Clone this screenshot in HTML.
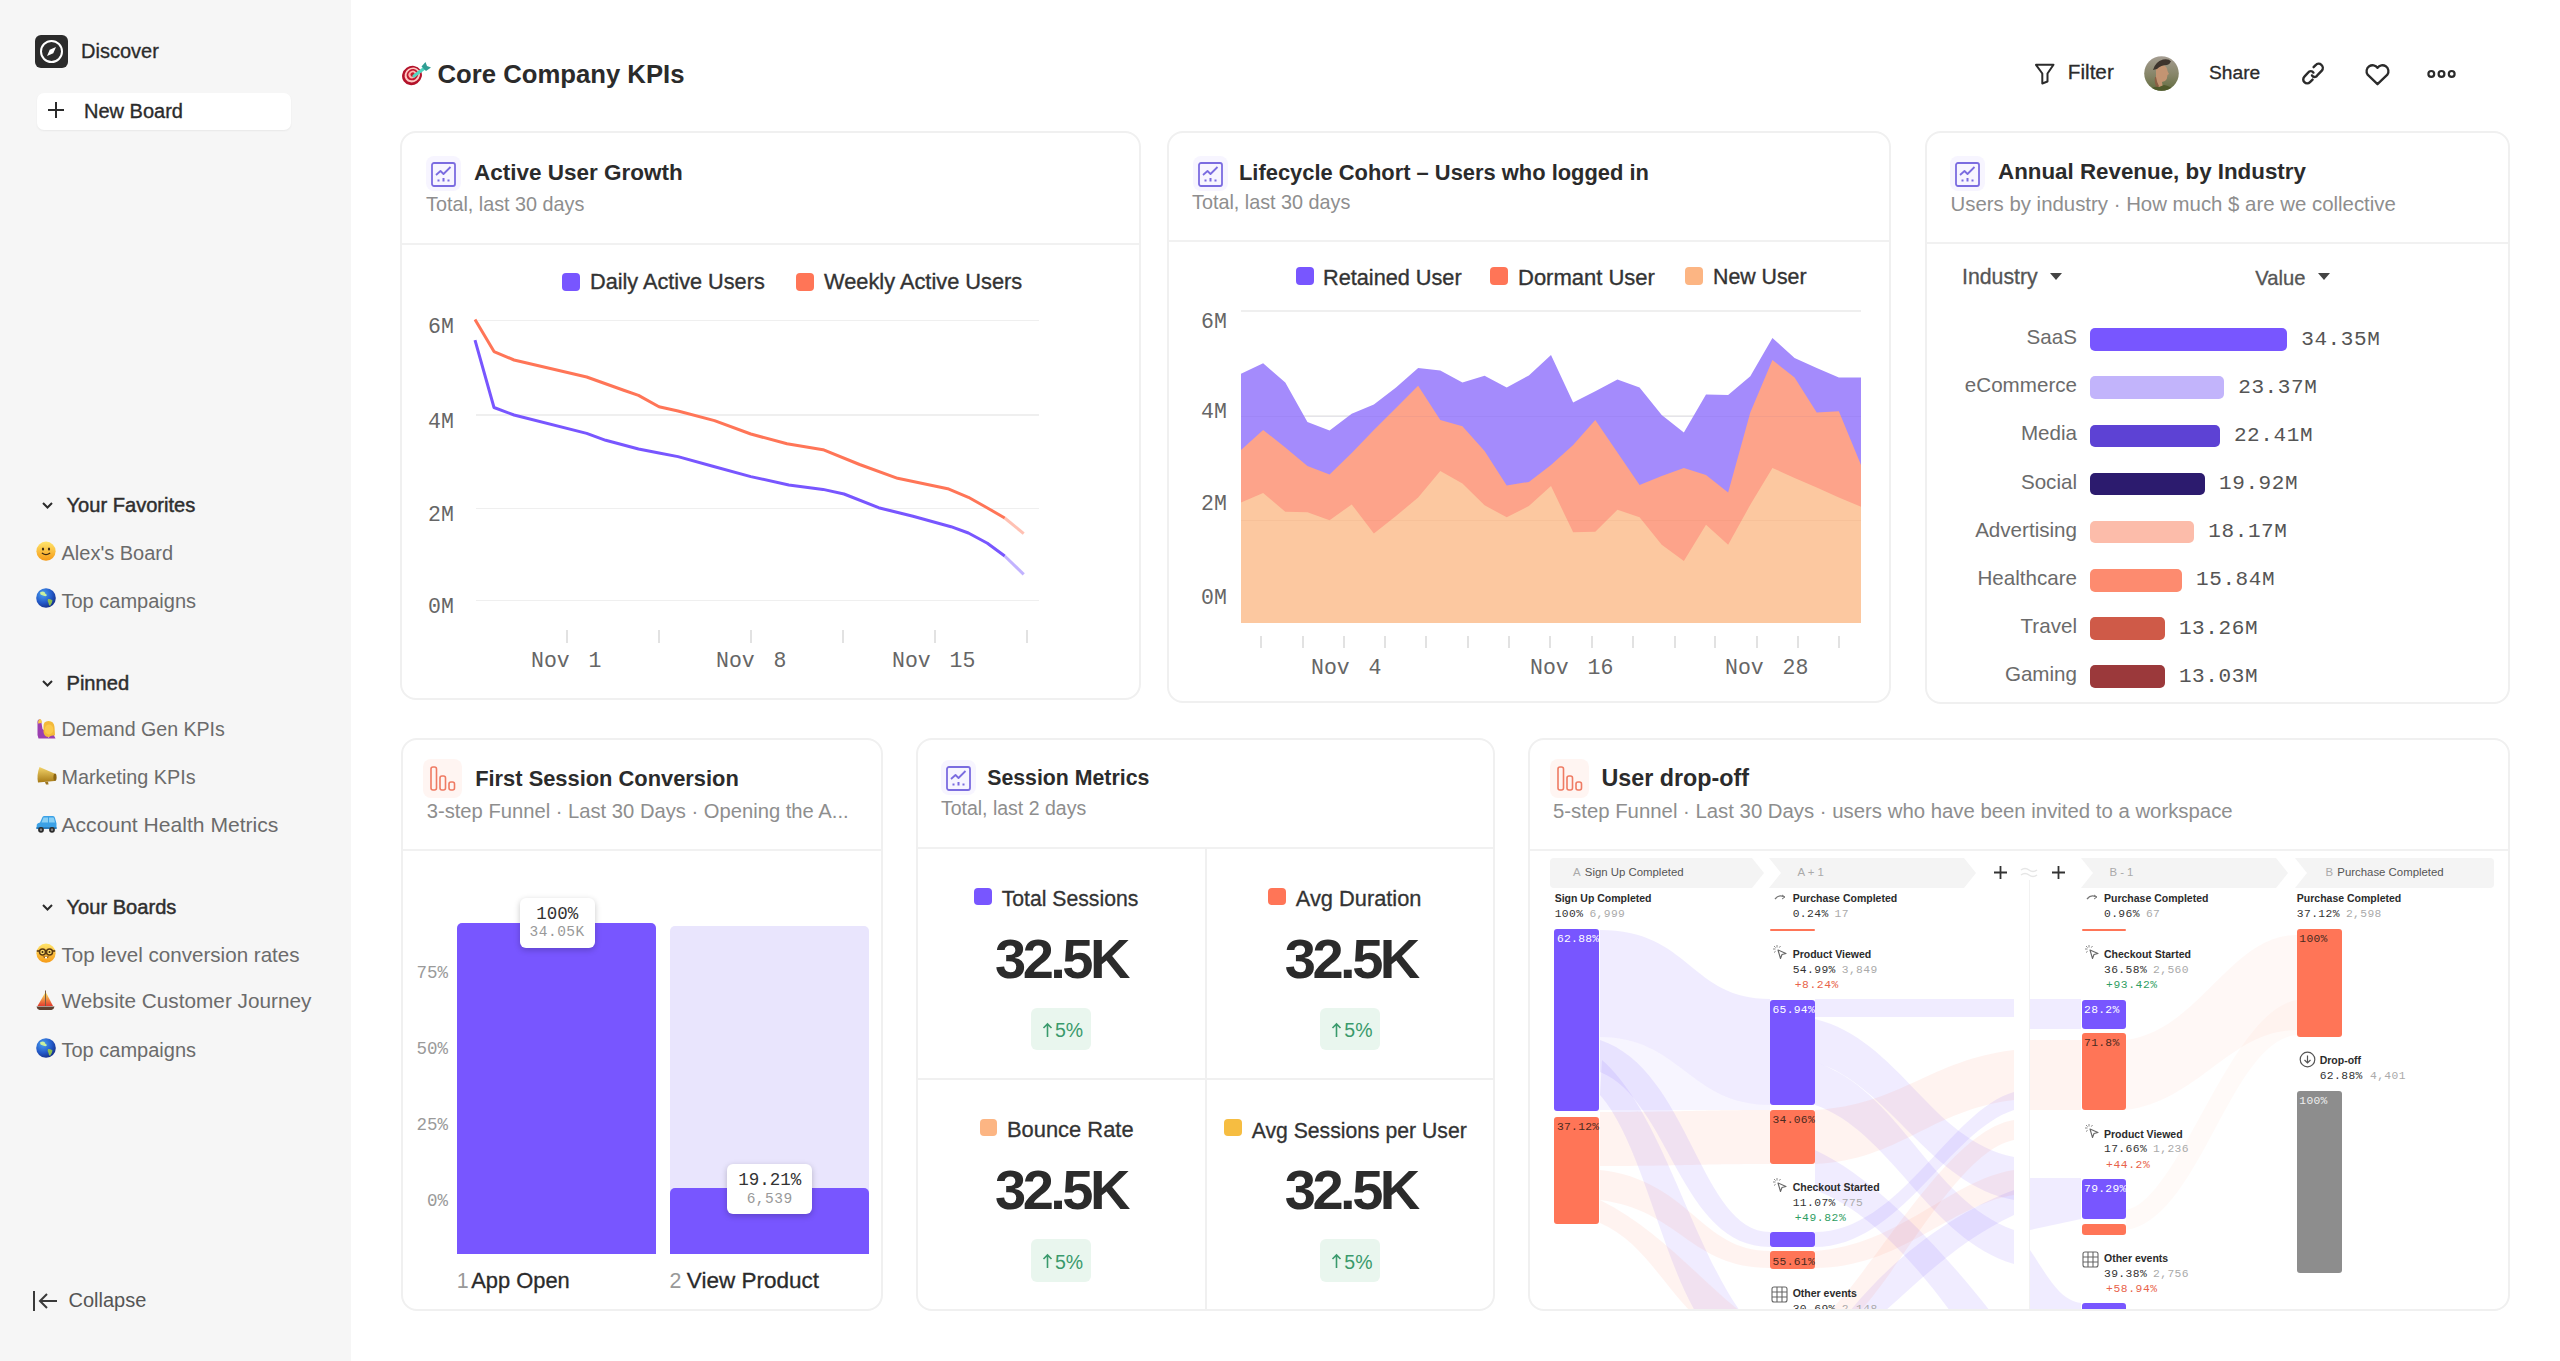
<!DOCTYPE html>
<html><head><meta charset="utf-8">
<style>
*{box-sizing:border-box;margin:0;padding:0}
html,body{width:2560px;height:1361px;overflow:hidden;background:#fff;font-family:"Liberation Sans",sans-serif;color:#2b2b2b;position:relative}
.abs{position:absolute}
.t{position:absolute;white-space:nowrap;line-height:1}
</style></head><body>
<div class="abs" style="left:0.00px;top:0.00px;width:351.00px;height:1361.00px;background:#f6f6f6;border-radius:0px;"></div>
<div class="abs" style="left:35.00px;top:35.00px;width:33.00px;height:33.00px;background:#2b2b2b;border-radius:6px;"></div>
<svg class="abs" style="left:35.00px;top:35.00px;" width="33" height="33" viewBox="0 0 33 33"><circle cx="16.5" cy="16.5" r="10.5" fill="none" stroke="#fff" stroke-width="2"/><path d="M21 12 L18.3 18.3 L12 21 L14.7 14.7Z" fill="#fff"/></svg>
<div class="t" style="top:40.57px;font-size:20px;color:#2b2b2b;font-family:'Liberation Sans',sans-serif;left:81.00px;-webkit-text-stroke:0.3px #2b2b2b">Discover</div>
<div class="abs" style="left:37.00px;top:93.00px;width:254.00px;height:37.00px;background:#ffffff;border-radius:7px;box-shadow:0 1px 2px rgba(0,0,0,0.06);"></div>
<svg class="abs" style="left:46.00px;top:100.00px;" width="20" height="20" viewBox="0 0 20 20"><path d="M10 2 V18 M2 10 H18" stroke="#2b2b2b" stroke-width="2"/></svg>
<div class="t" style="top:100.57px;font-size:20px;color:#2b2b2b;font-family:'Liberation Sans',sans-serif;left:84.00px;-webkit-text-stroke:0.35px #2b2b2b">New Board</div>
<svg class="abs" style="left:41.00px;top:500.40px;" width="13" height="10" viewBox="0 0 13 10"><path d="M2 3 L6.5 7.5 L11 3" stroke="#2b2b2b" stroke-width="2" fill="none"/></svg>
<div class="t" style="top:495.38px;font-size:20.1px;color:#2e2e2e;font-family:'Liberation Sans',sans-serif;left:66.50px;-webkit-text-stroke:0.45px #2e2e2e">Your Favorites</div>
<svg class="abs" style="left:35.70px;top:540.90px;" width="21" height="21" viewBox="0 0 21 21"><defs><linearGradient id="gsmile540" x1="0" y1="0" x2="0" y2="1"><stop offset="0" stop-color="#ffe46a"/><stop offset="1" stop-color="#f59a16"/></linearGradient></defs><circle cx="10" cy="10.2" r="9.6" fill="url(#gsmile540)"/><ellipse cx="7" cy="8" rx="1.1" ry="1.5" fill="#3d2a12"/><ellipse cx="13" cy="8" rx="1.1" ry="1.5" fill="#3d2a12"/><path d="M6.3 12.3 Q10 15 13.7 12.3" stroke="#3d2a12" stroke-width="1.3" fill="none" stroke-linecap="round"/></svg>
<div class="t" style="top:543.37px;font-size:20px;color:#6b6b6b;font-family:'Liberation Sans',sans-serif;left:61.50px;">Alex's Board</div>
<svg class="abs" style="left:35.70px;top:588.20px;" width="21" height="21" viewBox="0 0 21 21"><defs><radialGradient id="gglobe588" cx="0.35" cy="0.3" r="0.75"><stop offset="0" stop-color="#4aa0f0"/><stop offset="0.6" stop-color="#2359c8"/><stop offset="1" stop-color="#142f88"/></radialGradient></defs><circle cx="10" cy="10" r="9.8" fill="url(#gglobe588)"/><path d="M4 4.5 Q6.5 3 8.5 4 Q9 6 11 7 Q10.5 8.5 8.5 8 Q6 7 4.5 6.5Z" fill="#c9f0a0"/><path d="M12 11 Q15 10.5 16.5 12.5 Q16 15.5 14 18 Q12.5 17 12.5 15 Q11 13 12 11Z" fill="#8fbf4e"/></svg>
<div class="t" style="top:590.67px;font-size:20px;color:#6b6b6b;font-family:'Liberation Sans',sans-serif;left:61.50px;">Top campaigns</div>
<svg class="abs" style="left:41.00px;top:678.00px;" width="13" height="10" viewBox="0 0 13 10"><path d="M2 3 L6.5 7.5 L11 3" stroke="#2b2b2b" stroke-width="2" fill="none"/></svg>
<div class="t" style="top:672.98px;font-size:20.1px;color:#2e2e2e;font-family:'Liberation Sans',sans-serif;left:66.50px;-webkit-text-stroke:0.45px #2e2e2e">Pinned</div>
<svg class="abs" style="left:35.70px;top:717.60px;" width="21" height="21" viewBox="0 0 21 21"><path d="M1.5 6 Q1 1.5 3.5 1.2 Q5.5 1.5 5.5 5 L6.5 11 Q9 13.5 12 14 L12.5 20.5 L2.5 20.5 Q1 18 1.5 13Z" fill="#9b3fb0"/><path d="M2 5.5 Q2 1.5 4 1 Q6 1.5 5.8 5Z" fill="#f7c948"/><path d="M7.5 9 Q7 3 12.5 3 Q18 3 18.5 9 L19 17 Q16.5 20 13 19 Q8 19 7.5 14Z" fill="#f3b93a"/><ellipse cx="13" cy="11.5" rx="4.3" ry="5" fill="#fbc94a"/><path d="M12 20.5 Q14 17 18 17.5 L19.5 20.5Z" fill="#9b3fb0"/></svg>
<div class="t" style="top:720.40px;font-size:19.6px;color:#6b6b6b;font-family:'Liberation Sans',sans-serif;left:61.50px;">Demand Gen KPIs</div>
<svg class="abs" style="left:35.70px;top:765.30px;" width="21" height="21" viewBox="0 0 21 21"><defs><linearGradient id="gmega765" x1="0" y1="0" x2="0" y2="1"><stop offset="0" stop-color="#f3d46a"/><stop offset="1" stop-color="#a77a16"/></linearGradient></defs><path d="M3.5 2 L18.5 8.5 Q20.5 12.5 18.5 16 L2 17.5 Q0.5 10 3.5 2Z" fill="url(#gmega765)"/><ellipse cx="19" cy="12.3" rx="1.6" ry="3.8" fill="#8d6512"/><path d="M9 17 L10 19.5 L12.5 19.5 L12 16.8Z" fill="#9b7420"/></svg>
<div class="t" style="top:767.94px;font-size:19.8px;color:#6b6b6b;font-family:'Liberation Sans',sans-serif;left:61.50px;">Marketing KPIs</div>
<svg class="abs" style="left:35.70px;top:812.60px;" width="21" height="21" viewBox="0 0 21 21"><path d="M0.5 16 L0.8 11.5 Q1.5 10 4 9.5 L6.5 4 Q7 3 8.5 3 L17 3 Q18.5 3 19 5 L20.5 10.5 L20.5 16 Z" fill="#3ba1e6"/><path d="M7.5 4.5 L12 4.5 L12 9.5 L5.5 9.5Z M13 4.5 L17 4.5 Q17.8 4.5 18 5.5 L19 9.5 L13 9.5Z" fill="#8ad0f5"/><path d="M0.5 14 L20.5 14 L20.5 16 L0.5 16Z" fill="#2a7fc0"/><circle cx="5" cy="16.8" r="2.9" fill="#2b2b2b"/><circle cx="5" cy="16.8" r="1.2" fill="#888"/><circle cx="16" cy="16.8" r="2.9" fill="#2b2b2b"/><circle cx="16" cy="16.8" r="1.2" fill="#888"/></svg>
<div class="t" style="top:814.13px;font-size:21.1px;color:#6b6b6b;font-family:'Liberation Sans',sans-serif;left:61.50px;">Account Health Metrics</div>
<svg class="abs" style="left:41.00px;top:902.00px;" width="13" height="10" viewBox="0 0 13 10"><path d="M2 3 L6.5 7.5 L11 3" stroke="#2b2b2b" stroke-width="2" fill="none"/></svg>
<div class="t" style="top:896.98px;font-size:20.1px;color:#2e2e2e;font-family:'Liberation Sans',sans-serif;left:66.50px;-webkit-text-stroke:0.45px #2e2e2e">Your Boards</div>
<svg class="abs" style="left:35.70px;top:942.60px;" width="21" height="21" viewBox="0 0 21 21"><defs><linearGradient id="gnerd942" x1="0" y1="0" x2="0" y2="1"><stop offset="0" stop-color="#ffe46a"/><stop offset="1" stop-color="#f59a16"/></linearGradient></defs><circle cx="10" cy="10.2" r="9.6" fill="url(#gnerd942)"/><path d="M0.8 8 L19.2 8" stroke="#5a3a12" stroke-width="1.6"/><circle cx="6.5" cy="9" r="3" fill="#ffd966" stroke="#5a3a12" stroke-width="1.5"/><circle cx="13.5" cy="9" r="3" fill="#ffd966" stroke="#5a3a12" stroke-width="1.5"/><circle cx="6.5" cy="9" r="1" fill="#3d2a12"/><circle cx="13.5" cy="9" r="1" fill="#3d2a12"/><path d="M6.5 13.5 Q10 16.5 13.5 13.5Z" fill="#7a4a18"/><rect x="9" y="13.8" width="2" height="1.6" fill="#fff"/></svg>
<div class="t" style="top:944.56px;font-size:20.6px;color:#6b6b6b;font-family:'Liberation Sans',sans-serif;left:61.50px;">Top level conversion rates</div>
<svg class="abs" style="left:35.70px;top:989.60px;" width="21" height="21" viewBox="0 0 21 21"><defs><linearGradient id="gboat989" x1="0" y1="0" x2="0" y2="1"><stop offset="0" stop-color="#fde35a"/><stop offset="1" stop-color="#e23a2e"/></linearGradient></defs><path d="M9.5 0.5 L9.5 16" stroke="#6b4a2a" stroke-width="0.9"/><path d="M9 3 L9 16 L1.5 16Z" fill="url(#gboat989)"/><path d="M10 2.5 L10 16 L17 16Z" fill="url(#gboat989)"/><path d="M0.5 16.5 L18.5 16.5 Q18 19.5 15.5 20 L3.5 20 Q1 19.5 0.5 16.5Z" fill="#5e4030"/></svg>
<div class="t" style="top:991.42px;font-size:20.76px;color:#6b6b6b;font-family:'Liberation Sans',sans-serif;left:61.50px;">Website Customer Journey</div>
<svg class="abs" style="left:35.70px;top:1037.60px;" width="21" height="21" viewBox="0 0 21 21"><defs><radialGradient id="gglobe1037" cx="0.35" cy="0.3" r="0.75"><stop offset="0" stop-color="#4aa0f0"/><stop offset="0.6" stop-color="#2359c8"/><stop offset="1" stop-color="#142f88"/></radialGradient></defs><circle cx="10" cy="10" r="9.8" fill="url(#gglobe1037)"/><path d="M4 4.5 Q6.5 3 8.5 4 Q9 6 11 7 Q10.5 8.5 8.5 8 Q6 7 4.5 6.5Z" fill="#c9f0a0"/><path d="M12 11 Q15 10.5 16.5 12.5 Q16 15.5 14 18 Q12.5 17 12.5 15 Q11 13 12 11Z" fill="#8fbf4e"/></svg>
<div class="t" style="top:1040.07px;font-size:20px;color:#6b6b6b;font-family:'Liberation Sans',sans-serif;left:61.50px;">Top campaigns</div>
<svg class="abs" style="left:32.00px;top:1289.00px;" width="27" height="24" viewBox="0 0 27 24"><path d="M2 2 V22" stroke="#3a3a3a" stroke-width="2"/><path d="M25 12 H8 M15 5 L8 12 L15 19" stroke="#3a3a3a" stroke-width="2" fill="none"/></svg>
<div class="t" style="top:1290.07px;font-size:20px;color:#555;font-family:'Liberation Sans',sans-serif;left:68.50px;">Collapse</div>
<svg class="abs" style="left:401.00px;top:60.00px;" width="30" height="28" viewBox="0 0 30 28"><g transform="rotate(-35 11 15.5)"><ellipse cx="11" cy="15.5" rx="10.2" ry="9.4" fill="#b3122a"/><ellipse cx="11.6" cy="15.2" rx="8" ry="7.2" fill="#ffc9c4"/><ellipse cx="11.8" cy="15.1" rx="6.1" ry="5.4" fill="#c0182f"/><ellipse cx="12" cy="15" rx="4.2" ry="3.7" fill="#ffb3ad"/><ellipse cx="12.1" cy="15" rx="2.2" ry="2" fill="#c41f2c"/></g><path d="M13 16 L23 8.5" stroke="#52d6c0" stroke-width="3.2" stroke-linecap="round"/><path d="M20.5 6.5 L24.5 2 L26 6 L30 7.5 L25 11 Z" fill="#2f9e94"/></svg>
<div class="t" style="top:62.04px;font-size:25.7px;color:#2b2b2b;font-family:'Liberation Sans',sans-serif;font-weight:bold;left:437.50px;">Core Company KPIs</div>
<svg class="abs" style="left:2034.00px;top:63.00px;" width="22" height="22" viewBox="0 0 22 22"><path d="M2 1.8 H19.5 L13.5 10.5 V18.5 L8.3 20.5 V10.5Z" fill="none" stroke="#2b2b2b" stroke-width="2" stroke-linejoin="round"/></svg>
<div class="t" style="top:61.97px;font-size:20.7px;color:#2b2b2b;font-family:'Liberation Sans',sans-serif;left:2067.80px;-webkit-text-stroke:0.3px #2b2b2b">Filter</div>
<svg class="abs" style="left:2144.00px;top:56.00px;" width="36" height="36" viewBox="0 0 36 36"><defs><clipPath id="av"><circle cx="17.5" cy="17.5" r="17.3"/></clipPath><linearGradient id="avg" x1="0" y1="0" x2="0" y2="1"><stop offset="0" stop-color="#a59d92"/><stop offset="0.55" stop-color="#858466"/><stop offset="1" stop-color="#5e6a3c"/></linearGradient></defs><g clip-path="url(#av)"><rect width="36" height="36" fill="url(#avg)"/><path d="M12 12 Q14 9 19 9 Q23 10 23.5 15 L25 18 L23.5 19 Q23.5 23 21 25 L18 26 L19 32 L13 33 Q11 26 12 20Z" fill="#c39472"/><path d="M12 21 Q13 27 15 30 L13 33 Q10 27 11 21Z" fill="#8a5f45"/><path d="M9 14 Q11 6 19 3.5 Q25 2.5 27 5.5 Q26 8 23 9 Q17 9 13 13Z" fill="#3d342d"/><path d="M4 36 Q8 30 15 31 L20 29 Q27 30 32 36Z" fill="#4f5a2c"/></g></svg>
<div class="t" style="top:63.24px;font-size:19.2px;color:#2b2b2b;font-family:'Liberation Sans',sans-serif;left:2209.00px;-webkit-text-stroke:0.3px #2b2b2b">Share</div>
<svg class="abs" style="left:2290.00px;top:50.00px;" width="50" height="50" viewBox="0 0 50 50"><g fill="none" stroke="#2b2b2b" stroke-width="2.4" stroke-linecap="round" transform="translate(-2290,-50)"><path d="M2313.6 67.2 L2315.6 65.2 A3.7 3.7 0 0 1 2321.8 70.6 L2317.4 75.2 A3 3 0 0 1 2312 75.4"/><path d="M2313.4 72.6 A3 3 0 0 0 2308.2 72.6 L2304.4 76.6 A3.7 3.7 0 0 0 2310 82.2 L2312.6 79.6"/></g></svg>
<svg class="abs" style="left:2360.00px;top:60.00px;" width="34" height="30" viewBox="0 0 34 30"><path d="M17.5 24.2 L7.6 14.6 A5.9 5.9 0 0 1 17.5 7.9 A5.9 5.9 0 0 1 27.4 14.6Z" fill="none" stroke="#2b2b2b" stroke-width="2.3" stroke-linejoin="round"/></svg>
<svg class="abs" style="left:2426.00px;top:66.00px;" width="31" height="15" viewBox="0 0 31 15"><circle cx="5.3" cy="7.9" r="2.9" fill="none" stroke="#2b2b2b" stroke-width="2.2"/><circle cx="15.5" cy="7.9" r="2.9" fill="none" stroke="#2b2b2b" stroke-width="2.2"/><circle cx="25.7" cy="7.9" r="2.9" fill="none" stroke="#2b2b2b" stroke-width="2.2"/></svg>
<div class="abs" style="left:400px;top:131px;width:741px;height:569px;border:2px solid #f0f0f0;border-radius:16px;background:#fff"></div>
<div class="abs" style="left:402.00px;top:242.50px;width:737.00px;height:2.00px;background:#f1f1f1;border-radius:0px;"></div>
<div class="abs" style="left:426.00px;top:156.00px;width:35.00px;height:35.00px;background:#f7f5ff;border-radius:8px;"></div>
<svg class="abs" style="left:431.00px;top:162.00px;" width="25" height="25" viewBox="0 0 25 25"><rect x="1" y="1" width="23" height="23" rx="2" fill="none" stroke="#7b6ce0" stroke-width="1.8"/><path d="M5 13 L9.5 9 L12.5 12 L19.5 5" fill="none" stroke="#7b6ce0" stroke-width="1.8" stroke-linejoin="round"/><rect x="6.5" y="17.5" width="2" height="2" fill="#7a6ae0"/><rect x="11.5" y="16" width="2" height="3.5" fill="#7a6ae0"/><rect x="16.5" y="17.5" width="2" height="2" fill="#7a6ae0"/></svg>
<div class="t" style="top:161.95px;font-size:22.5px;color:#2b2b2b;font-family:'Liberation Sans',sans-serif;font-weight:bold;left:474.00px;">Active User Growth</div>
<div class="t" style="top:195.44px;font-size:19.8px;color:#8e8e8e;font-family:'Liberation Sans',sans-serif;left:426.00px;">Total, last 30 days</div>
<div class="abs" style="left:561.80px;top:272.80px;width:18.00px;height:18.00px;background:#7856ff;border-radius:4px;"></div>
<div class="t" style="top:271.13px;font-size:21.7px;color:#333;font-family:'Liberation Sans',sans-serif;left:590.00px;-webkit-text-stroke:0.35px #333">Daily Active Users</div>
<div class="abs" style="left:796.00px;top:272.80px;width:18.00px;height:18.00px;background:#ff7557;border-radius:4px;"></div>
<div class="t" style="top:271.04px;font-size:21.8px;color:#333;font-family:'Liberation Sans',sans-serif;left:824.00px;-webkit-text-stroke:0.35px #333">Weekly Active Users</div>
<div class="abs" style="left:476.00px;top:319.75px;width:563.00px;height:1.50px;background:#efefef;border-radius:0px;"></div>
<div class="t" style="top:317.03px;font-size:21.5px;color:#666;font-family:'Liberation Mono',monospace;left:428.00px;">6M</div>
<div class="abs" style="left:476.00px;top:414.25px;width:563.00px;height:1.50px;background:#efefef;border-radius:0px;"></div>
<div class="t" style="top:411.53px;font-size:21.5px;color:#666;font-family:'Liberation Mono',monospace;left:428.00px;">4M</div>
<div class="abs" style="left:476.00px;top:507.65px;width:563.00px;height:1.50px;background:#efefef;border-radius:0px;"></div>
<div class="t" style="top:504.93px;font-size:21.5px;color:#666;font-family:'Liberation Mono',monospace;left:428.00px;">2M</div>
<div class="abs" style="left:476.00px;top:599.55px;width:563.00px;height:1.50px;background:#efefef;border-radius:0px;"></div>
<div class="t" style="top:596.83px;font-size:21.5px;color:#666;font-family:'Liberation Mono',monospace;left:428.00px;">0M</div>
<div class="abs" style="left:565.70px;top:629.60px;width:2.00px;height:13.00px;background:#e2e2e2;border-radius:0px;"></div>
<div class="abs" style="left:658.00px;top:629.60px;width:2.00px;height:13.00px;background:#e2e2e2;border-radius:0px;"></div>
<div class="abs" style="left:749.80px;top:629.60px;width:2.00px;height:13.00px;background:#e2e2e2;border-radius:0px;"></div>
<div class="abs" style="left:842.00px;top:629.60px;width:2.00px;height:13.00px;background:#e2e2e2;border-radius:0px;"></div>
<div class="abs" style="left:934.00px;top:629.60px;width:2.00px;height:13.00px;background:#e2e2e2;border-radius:0px;"></div>
<div class="abs" style="left:1026.00px;top:629.60px;width:2.00px;height:13.00px;background:#e2e2e2;border-radius:0px;"></div>
<div class="t" style="top:650.53px;font-size:21.5px;color:#666;font-family:'Liberation Mono',monospace;left:531.00px;word-spacing:6px">Nov 1</div>
<div class="t" style="top:650.53px;font-size:21.5px;color:#666;font-family:'Liberation Mono',monospace;left:716.00px;word-spacing:6px">Nov 8</div>
<div class="t" style="top:650.53px;font-size:21.5px;color:#666;font-family:'Liberation Mono',monospace;left:892.00px;word-spacing:6px">Nov 15</div>
<svg class="abs" style="left:401.00px;top:240.00px;" width="700" height="400" viewBox="0 0 700 400"><polyline points="74.0,79.4 93.0,111.6 113.0,120.0 185.7,137.0 222.0,150.0 237.5,155.4 258.0,166.8 277.0,171.0 313.5,180.6 349.8,194.0 386.0,203.8 422.0,209.7 458.6,224.5 496.6,238.3 546.7,248.7 567.4,257.3 584.7,267.0 603.7,278.0" fill="none" stroke="#ff7557" stroke-width="3" stroke-linejoin="round"/><polyline points="74.0,100.2 93.0,167.5 113.0,175.0 185.7,193.4 204.7,200.3 237.5,209.0 258.0,213.0 277.0,216.6 311.8,226.3 349.8,236.6 387.8,245.0 422.0,249.4 443.0,254.0 477.6,267.7 512.0,276.3 550.0,286.7 567.4,293.0 586.4,303.3 603.7,316.0" fill="none" stroke="#7856ff" stroke-width="3" stroke-linejoin="round"/><line x1="603.7" y1="278" x2="622.7" y2="293.6" stroke="#ff7557" stroke-opacity="0.45" stroke-width="3"/><line x1="603.7" y1="316" x2="622.7" y2="334.4" stroke="#7856ff" stroke-opacity="0.45" stroke-width="3"/></svg>
<div class="abs" style="left:1167px;top:131px;width:724px;height:572px;border:2px solid #f0f0f0;border-radius:16px;background:#fff"></div>
<div class="abs" style="left:1169.00px;top:239.50px;width:720.00px;height:2.00px;background:#f1f1f1;border-radius:0px;"></div>
<div class="abs" style="left:1193.00px;top:156.00px;width:35.00px;height:35.00px;background:#f7f5ff;border-radius:8px;"></div>
<svg class="abs" style="left:1198.00px;top:162.00px;" width="25" height="25" viewBox="0 0 25 25"><rect x="1" y="1" width="23" height="23" rx="2" fill="none" stroke="#7b6ce0" stroke-width="1.8"/><path d="M5 13 L9.5 9 L12.5 12 L19.5 5" fill="none" stroke="#7b6ce0" stroke-width="1.8" stroke-linejoin="round"/><rect x="6.5" y="17.5" width="2" height="2" fill="#7a6ae0"/><rect x="11.5" y="16" width="2" height="3.5" fill="#7a6ae0"/><rect x="16.5" y="17.5" width="2" height="2" fill="#7a6ae0"/></svg>
<div class="t" style="top:161.96px;font-size:21.9px;color:#2b2b2b;font-family:'Liberation Sans',sans-serif;font-weight:bold;left:1239.00px;">Lifecycle Cohort – Users who logged in</div>
<div class="t" style="top:193.24px;font-size:19.8px;color:#8e8e8e;font-family:'Liberation Sans',sans-serif;left:1192.00px;">Total, last 30 days</div>
<div class="abs" style="left:1295.50px;top:267.00px;width:18.00px;height:18.00px;background:#7856ff;border-radius:4px;"></div>
<div class="t" style="top:267.13px;font-size:21.7px;color:#333;font-family:'Liberation Sans',sans-serif;left:1323.00px;-webkit-text-stroke:0.35px #333">Retained User</div>
<div class="abs" style="left:1490.00px;top:267.00px;width:18.00px;height:18.00px;background:#ff7557;border-radius:4px;"></div>
<div class="t" style="top:266.87px;font-size:22px;color:#333;font-family:'Liberation Sans',sans-serif;left:1518.00px;-webkit-text-stroke:0.35px #333">Dormant User</div>
<div class="abs" style="left:1685.00px;top:267.00px;width:18.00px;height:18.00px;background:#fcb583;border-radius:4px;"></div>
<div class="t" style="top:267.47px;font-size:21.3px;color:#333;font-family:'Liberation Sans',sans-serif;left:1713.00px;-webkit-text-stroke:0.35px #333">New User</div>
<div class="abs" style="left:1241.00px;top:310.45px;width:620.00px;height:1.50px;background:#efefef;border-radius:0px;"></div>
<div class="abs" style="left:1241.00px;top:415.45px;width:620.00px;height:1.50px;background:#efefef;border-radius:0px;"></div>
<div class="abs" style="left:1241.00px;top:519.55px;width:620.00px;height:1.50px;background:#efefef;border-radius:0px;"></div>
<div class="t" style="top:312.03px;font-size:21.5px;color:#666;font-family:'Liberation Mono',monospace;left:1201.00px;">6M</div>
<div class="t" style="top:402.33px;font-size:21.5px;color:#666;font-family:'Liberation Mono',monospace;left:1201.00px;">4M</div>
<div class="t" style="top:494.03px;font-size:21.5px;color:#666;font-family:'Liberation Mono',monospace;left:1201.00px;">2M</div>
<div class="t" style="top:587.73px;font-size:21.5px;color:#666;font-family:'Liberation Mono',monospace;left:1201.00px;">0M</div>
<svg class="abs" style="left:1168.00px;top:240.00px;" width="722" height="400" viewBox="0 0 722 400"><polygon points="73.00,383 73.00,133.70 95.14,123.20 117.29,142.40 139.43,181.90 161.57,190.40 183.71,173.70 205.86,164.40 228.00,147.40 250.14,128.00 272.29,130.40 294.43,142.40 316.57,135.70 338.71,147.40 360.86,135.40 383.00,115.00 405.14,162.40 427.29,151.20 449.43,139.40 471.57,147.40 493.71,174.90 515.86,192.40 538.00,154.40 560.14,154.90 582.29,136.20 604.43,98.00 626.57,118.00 648.71,128.00 670.86,137.40 693.00,137.40 693.00,383" fill="#a48bfc"/><polygon points="73.00,383 73.00,209.90 95.14,189.90 117.29,207.40 139.43,226.10 161.57,234.40 183.71,212.90 205.86,189.90 228.00,167.90 250.14,145.70 272.29,179.90 294.43,186.20 316.57,211.10 338.71,245.40 360.86,241.90 383.00,224.90 405.14,204.90 427.29,179.90 449.43,212.40 471.57,244.90 493.71,236.10 515.86,227.90 538.00,234.90 560.14,252.40 582.29,172.40 604.43,120.00 626.57,137.40 648.71,172.40 670.86,171.20 693.00,224.90 693.00,383" fill="#fda38a"/><polygon points="73.00,383 73.00,262.40 95.14,252.90 117.29,271.80 139.43,272.30 161.57,280.30 183.71,264.40 205.86,293.60 228.00,276.10 250.14,257.40 272.29,231.10 294.43,243.60 316.57,265.30 338.71,277.30 360.86,266.10 383.00,246.10 405.14,292.30 427.29,291.80 449.43,269.80 471.57,277.30 493.71,304.80 515.86,321.00 538.00,284.80 560.14,304.80 582.29,264.80 604.43,227.90 626.57,237.90 648.71,247.40 670.86,257.40 693.00,266.80 693.00,383" fill="#fcc8a0"/></svg>
<div class="abs" style="left:1241.00px;top:415.50px;width:620.00px;height:1.50px;background:rgba(90,60,150,0.06);border-radius:0px;"></div>
<div class="abs" style="left:1241.00px;top:519.50px;width:620.00px;height:1.50px;background:rgba(150,80,40,0.05);border-radius:0px;"></div>
<div class="abs" style="left:1260.40px;top:636.40px;width:2.00px;height:12.00px;background:#e2e2e2;border-radius:0px;"></div>
<div class="abs" style="left:1301.80px;top:636.40px;width:2.00px;height:12.00px;background:#e2e2e2;border-radius:0px;"></div>
<div class="abs" style="left:1342.70px;top:636.40px;width:2.00px;height:12.00px;background:#e2e2e2;border-radius:0px;"></div>
<div class="abs" style="left:1384.00px;top:636.40px;width:2.00px;height:12.00px;background:#e2e2e2;border-radius:0px;"></div>
<div class="abs" style="left:1425.40px;top:636.40px;width:2.00px;height:12.00px;background:#e2e2e2;border-radius:0px;"></div>
<div class="abs" style="left:1466.80px;top:636.40px;width:2.00px;height:12.00px;background:#e2e2e2;border-radius:0px;"></div>
<div class="abs" style="left:1507.70px;top:636.40px;width:2.00px;height:12.00px;background:#e2e2e2;border-radius:0px;"></div>
<div class="abs" style="left:1549.00px;top:636.40px;width:2.00px;height:12.00px;background:#e2e2e2;border-radius:0px;"></div>
<div class="abs" style="left:1590.80px;top:636.40px;width:2.00px;height:12.00px;background:#e2e2e2;border-radius:0px;"></div>
<div class="abs" style="left:1632.00px;top:636.40px;width:2.00px;height:12.00px;background:#e2e2e2;border-radius:0px;"></div>
<div class="abs" style="left:1673.50px;top:636.40px;width:2.00px;height:12.00px;background:#e2e2e2;border-radius:0px;"></div>
<div class="abs" style="left:1714.40px;top:636.40px;width:2.00px;height:12.00px;background:#e2e2e2;border-radius:0px;"></div>
<div class="abs" style="left:1755.80px;top:636.40px;width:2.00px;height:12.00px;background:#e2e2e2;border-radius:0px;"></div>
<div class="abs" style="left:1797.00px;top:636.40px;width:2.00px;height:12.00px;background:#e2e2e2;border-radius:0px;"></div>
<div class="abs" style="left:1838.00px;top:636.40px;width:2.00px;height:12.00px;background:#e2e2e2;border-radius:0px;"></div>
<div class="t" style="top:657.53px;font-size:21.5px;color:#666;font-family:'Liberation Mono',monospace;left:1311.00px;word-spacing:6px">Nov 4</div>
<div class="t" style="top:657.53px;font-size:21.5px;color:#666;font-family:'Liberation Mono',monospace;left:1530.00px;word-spacing:6px">Nov 16</div>
<div class="t" style="top:657.53px;font-size:21.5px;color:#666;font-family:'Liberation Mono',monospace;left:1725.00px;word-spacing:6px">Nov 28</div>
<div class="abs" style="left:1925px;top:131px;width:585px;height:573px;border:2px solid #f0f0f0;border-radius:16px;background:#fff"></div>
<div class="abs" style="left:1927.00px;top:242.00px;width:581.00px;height:2.00px;background:#f1f1f1;border-radius:0px;"></div>
<div class="abs" style="left:1950.00px;top:156.00px;width:35.00px;height:35.00px;background:#f7f5ff;border-radius:8px;"></div>
<svg class="abs" style="left:1955.00px;top:162.00px;" width="25" height="25" viewBox="0 0 25 25"><rect x="1" y="1" width="23" height="23" rx="2" fill="none" stroke="#7b6ce0" stroke-width="1.8"/><path d="M5 13 L9.5 9 L12.5 12 L19.5 5" fill="none" stroke="#7b6ce0" stroke-width="1.8" stroke-linejoin="round"/><rect x="6.5" y="17.5" width="2" height="2" fill="#7a6ae0"/><rect x="11.5" y="16" width="2" height="3.5" fill="#7a6ae0"/><rect x="16.5" y="17.5" width="2" height="2" fill="#7a6ae0"/></svg>
<div class="t" style="top:161.08px;font-size:22.35px;color:#2b2b2b;font-family:'Liberation Sans',sans-serif;font-weight:bold;left:1998.00px;">Annual Revenue, by Industry</div>
<div class="t" style="top:193.73px;font-size:20.4px;color:#8e8e8e;font-family:'Liberation Sans',sans-serif;left:1950.50px;">Users by industry · How much $ are we collective</div>
<div class="t" style="top:267.47px;font-size:21.3px;color:#555;font-family:'Liberation Sans',sans-serif;left:1962.00px;-webkit-text-stroke:0.3px #555">Industry</div>
<svg class="abs" style="left:2050.00px;top:273.00px;" width="13" height="8" viewBox="0 0 13 8"><path d="M0 0 H12 L6 7Z" fill="#444"/></svg>
<div class="t" style="top:268.40px;font-size:20.2px;color:#555;font-family:'Liberation Sans',sans-serif;left:2255.30px;-webkit-text-stroke:0.3px #555">Value</div>
<svg class="abs" style="left:2318.00px;top:273.00px;" width="13" height="8" viewBox="0 0 13 8"><path d="M0 0 H12 L6 7Z" fill="#444"/></svg>
<div class="t" style="top:327.06px;font-size:20.6px;color:#6b6b6b;font-family:'Liberation Sans',sans-serif;right:483.00px;">SaaS</div>
<div class="abs" style="left:2090.00px;top:328.20px;width:197.20px;height:22.60px;background:#7856ff;border-radius:5px;"></div>
<div class="t" style="top:328.61px;font-size:21px;color:#555;font-family:'Liberation Mono',monospace;letter-spacing:0.6px;left:2301.20px;">34.35M</div>
<div class="t" style="top:375.21px;font-size:20.6px;color:#6b6b6b;font-family:'Liberation Sans',sans-serif;right:483.00px;">eCommerce</div>
<div class="abs" style="left:2090.00px;top:376.35px;width:134.20px;height:22.60px;background:#c2b4fb;border-radius:5px;"></div>
<div class="t" style="top:376.76px;font-size:21px;color:#555;font-family:'Liberation Mono',monospace;letter-spacing:0.6px;left:2238.20px;">23.37M</div>
<div class="t" style="top:423.36px;font-size:20.6px;color:#6b6b6b;font-family:'Liberation Sans',sans-serif;right:483.00px;">Media</div>
<div class="abs" style="left:2090.00px;top:424.50px;width:129.90px;height:22.60px;background:#5d42d4;border-radius:5px;"></div>
<div class="t" style="top:424.91px;font-size:21px;color:#555;font-family:'Liberation Mono',monospace;letter-spacing:0.6px;left:2233.90px;">22.41M</div>
<div class="t" style="top:471.51px;font-size:20.6px;color:#6b6b6b;font-family:'Liberation Sans',sans-serif;right:483.00px;">Social</div>
<div class="abs" style="left:2090.00px;top:472.65px;width:115.00px;height:22.60px;background:#2c1b6e;border-radius:5px;"></div>
<div class="t" style="top:473.06px;font-size:21px;color:#555;font-family:'Liberation Mono',monospace;letter-spacing:0.6px;left:2219.00px;">19.92M</div>
<div class="t" style="top:519.66px;font-size:20.6px;color:#6b6b6b;font-family:'Liberation Sans',sans-serif;right:483.00px;">Advertising</div>
<div class="abs" style="left:2090.00px;top:520.80px;width:104.30px;height:22.60px;background:#fcbcaa;border-radius:5px;"></div>
<div class="t" style="top:521.21px;font-size:21px;color:#555;font-family:'Liberation Mono',monospace;letter-spacing:0.6px;left:2208.30px;">18.17M</div>
<div class="t" style="top:567.81px;font-size:20.6px;color:#6b6b6b;font-family:'Liberation Sans',sans-serif;right:483.00px;">Healthcare</div>
<div class="abs" style="left:2090.00px;top:568.95px;width:92.00px;height:22.60px;background:#fd8b6f;border-radius:5px;"></div>
<div class="t" style="top:569.36px;font-size:21px;color:#555;font-family:'Liberation Mono',monospace;letter-spacing:0.6px;left:2196.00px;">15.84M</div>
<div class="t" style="top:615.96px;font-size:20.6px;color:#6b6b6b;font-family:'Liberation Sans',sans-serif;right:483.00px;">Travel</div>
<div class="abs" style="left:2090.00px;top:617.10px;width:74.90px;height:22.60px;background:#cf5a48;border-radius:5px;"></div>
<div class="t" style="top:617.51px;font-size:21px;color:#555;font-family:'Liberation Mono',monospace;letter-spacing:0.6px;left:2178.90px;">13.26M</div>
<div class="t" style="top:664.11px;font-size:20.6px;color:#6b6b6b;font-family:'Liberation Sans',sans-serif;right:483.00px;">Gaming</div>
<div class="abs" style="left:2090.00px;top:665.25px;width:74.90px;height:22.60px;background:#9b393b;border-radius:5px;"></div>
<div class="t" style="top:665.66px;font-size:21px;color:#555;font-family:'Liberation Mono',monospace;letter-spacing:0.6px;left:2178.90px;">13.03M</div>
<div class="abs" style="left:401px;top:738px;width:482px;height:573px;border:2px solid #f0f0f0;border-radius:16px;background:#fff"></div>
<div class="abs" style="left:403.00px;top:849.00px;width:478.00px;height:2.00px;background:#f1f1f1;border-radius:0px;"></div>
<div class="abs" style="left:423.00px;top:759.00px;width:39.00px;height:39.00px;background:#fff5f2;border-radius:8px;"></div>
<svg class="abs" style="left:430.00px;top:766.00px;" width="28" height="26" viewBox="0 0 28 26"><rect x="1" y="1" width="5.5" height="23" rx="2" fill="none" stroke="#ef7b63" stroke-width="1.6"/><rect x="10" y="10" width="5.5" height="14" rx="2" fill="none" stroke="#ef7b63" stroke-width="1.6"/><rect x="19" y="16" width="5.5" height="8" rx="2" fill="none" stroke="#ef7b63" stroke-width="1.6"/></svg>
<div class="t" style="top:767.89px;font-size:21.86px;color:#2b2b2b;font-family:'Liberation Sans',sans-serif;font-weight:bold;left:475.20px;">First Session Conversion</div>
<div class="t" style="top:800.90px;font-size:20.2px;color:#8e8e8e;font-family:'Liberation Sans',sans-serif;left:426.70px;">3-step Funnel · Last 30 Days · Opening the A...</div>
<div class="t" style="top:965.49px;font-size:17.5px;color:#9a9a9a;font-family:'Liberation Mono',monospace;right:2112.00px;">75%</div>
<div class="t" style="top:1041.29px;font-size:17.5px;color:#9a9a9a;font-family:'Liberation Mono',monospace;right:2112.00px;">50%</div>
<div class="t" style="top:1116.69px;font-size:17.5px;color:#9a9a9a;font-family:'Liberation Mono',monospace;right:2112.00px;">25%</div>
<div class="t" style="top:1193.39px;font-size:17.5px;color:#9a9a9a;font-family:'Liberation Mono',monospace;right:2112.00px;">0%</div>
<div class="abs" style="left:456.70px;top:922.60px;width:199.60px;height:331.00px;background:#7856ff;border-radius:5px;border-bottom-left-radius:0;border-bottom-right-radius:0;"></div>
<div class="abs" style="left:669.60px;top:926.10px;width:199.60px;height:327.50px;background:#e9e5fd;border-radius:5px;border-bottom-left-radius:0;border-bottom-right-radius:0;"></div>
<div class="abs" style="left:669.60px;top:1188.40px;width:199.60px;height:65.20px;background:#7856ff;border-radius:5px;border-bottom-left-radius:0;border-bottom-right-radius:0;"></div>
<div class="abs" style="left:519.70px;top:897.50px;width:74.90px;height:50.70px;background:#fff;border-radius:6px;box-shadow:0 2px 6px rgba(0,0,0,0.22);"></div>
<div class="t" style="top:905.59px;font-size:17.5px;color:#333;font-family:'Liberation Mono',monospace;left:557.15px;transform:translateX(-50%);">100%</div>
<div class="t" style="top:925.39px;font-size:14.5px;color:#999;font-family:'Liberation Mono',monospace;letter-spacing:0.5px;left:557.15px;transform:translateX(-50%);">34.05K</div>
<div class="abs" style="left:726.90px;top:1164.00px;width:85.50px;height:50.00px;background:#fff;border-radius:6px;box-shadow:0 2px 6px rgba(0,0,0,0.22);"></div>
<div class="t" style="top:1172.09px;font-size:17.5px;color:#333;font-family:'Liberation Mono',monospace;left:769.65px;transform:translateX(-50%);">19.21%</div>
<div class="t" style="top:1191.89px;font-size:14.5px;color:#999;font-family:'Liberation Mono',monospace;letter-spacing:0.5px;left:769.65px;transform:translateX(-50%);">6,539</div>
<div class="t" style="top:1270.88px;font-size:21.4px;color:#999;font-family:'Liberation Sans',sans-serif;left:456.70px;">1</div>
<div class="t" style="top:1270.46px;font-size:21.9px;color:#2b2b2b;font-family:'Liberation Sans',sans-serif;left:471.20px;-webkit-text-stroke:0.3px #2b2b2b">App Open</div>
<div class="t" style="top:1270.88px;font-size:21.4px;color:#999;font-family:'Liberation Sans',sans-serif;left:669.60px;">2</div>
<div class="t" style="top:1269.95px;font-size:22.5px;color:#2b2b2b;font-family:'Liberation Sans',sans-serif;left:686.80px;-webkit-text-stroke:0.3px #2b2b2b">View Product</div>
<div class="abs" style="left:916px;top:738px;width:579px;height:573px;border:2px solid #f0f0f0;border-radius:16px;background:#fff"></div>
<div class="abs" style="left:918.00px;top:846.50px;width:575.00px;height:2.00px;background:#f1f1f1;border-radius:0px;"></div>
<div class="abs" style="left:941.00px;top:760.00px;width:35.00px;height:35.00px;background:#f7f5ff;border-radius:8px;"></div>
<svg class="abs" style="left:946.00px;top:766.00px;" width="25" height="25" viewBox="0 0 25 25"><rect x="1" y="1" width="23" height="23" rx="2" fill="none" stroke="#7b6ce0" stroke-width="1.8"/><path d="M5 13 L9.5 9 L12.5 12 L19.5 5" fill="none" stroke="#7b6ce0" stroke-width="1.8" stroke-linejoin="round"/><rect x="6.5" y="17.5" width="2" height="2" fill="#7a6ae0"/><rect x="11.5" y="16" width="2" height="3.5" fill="#7a6ae0"/><rect x="16.5" y="17.5" width="2" height="2" fill="#7a6ae0"/></svg>
<div class="t" style="top:768.37px;font-size:21.3px;color:#2b2b2b;font-family:'Liberation Sans',sans-serif;font-weight:bold;left:987.20px;">Session Metrics</div>
<div class="t" style="top:799.49px;font-size:19.5px;color:#8e8e8e;font-family:'Liberation Sans',sans-serif;left:940.90px;">Total, last 2 days</div>
<div class="abs" style="left:1205.30px;top:848.00px;width:2.00px;height:461.00px;background:#f0f0f0;border-radius:0px;"></div>
<div class="abs" style="left:918.00px;top:1078.20px;width:575.00px;height:2.00px;background:#f0f0f0;border-radius:0px;"></div>
<div class="abs" style="left:974.00px;top:887.80px;width:17.50px;height:17.50px;background:#7856ff;border-radius:4px;"></div>
<div class="t" style="top:888.45px;font-size:21.2px;color:#333;font-family:'Liberation Sans',sans-serif;left:1001.70px;-webkit-text-stroke:0.3px #333">Total Sessions</div>
<div class="t" style="top:930.78px;font-size:56px;color:#2b2b2b;font-family:'Liberation Sans',sans-serif;font-weight:bold;letter-spacing:-3.5px;left:995.00px;">32.5K</div>
<div class="abs" style="left:1031.00px;top:1007.80px;width:60.00px;height:42.50px;background:#e9f6ee;border-radius:6px;"></div>
<svg class="abs" style="left:1042.00px;top:1021.80px;" width="11" height="16" viewBox="0 0 11 16"><path d="M5.5 15 V2 M1.5 6 L5.5 2 L9.5 6" stroke="#3a9a6c" stroke-width="1.6" fill="none"/></svg>
<div class="t" style="top:1021.29px;font-size:19.5px;color:#3a9a6c;font-family:'Liberation Sans',sans-serif;left:1055.00px;">5%</div>
<div class="abs" style="left:1268.00px;top:887.80px;width:17.50px;height:17.50px;background:#ff7557;border-radius:4px;"></div>
<div class="t" style="top:887.94px;font-size:21.8px;color:#333;font-family:'Liberation Sans',sans-serif;left:1295.80px;-webkit-text-stroke:0.3px #333">Avg Duration</div>
<div class="t" style="top:930.78px;font-size:56px;color:#2b2b2b;font-family:'Liberation Sans',sans-serif;font-weight:bold;letter-spacing:-3.5px;left:1284.80px;">32.5K</div>
<div class="abs" style="left:1320.30px;top:1007.80px;width:60.00px;height:42.50px;background:#e9f6ee;border-radius:6px;"></div>
<svg class="abs" style="left:1331.30px;top:1021.80px;" width="11" height="16" viewBox="0 0 11 16"><path d="M5.5 15 V2 M1.5 6 L5.5 2 L9.5 6" stroke="#3a9a6c" stroke-width="1.6" fill="none"/></svg>
<div class="t" style="top:1021.29px;font-size:19.5px;color:#3a9a6c;font-family:'Liberation Sans',sans-serif;left:1344.30px;">5%</div>
<div class="abs" style="left:979.70px;top:1118.90px;width:17.50px;height:17.50px;background:#fcb583;border-radius:4px;"></div>
<div class="t" style="top:1119.26px;font-size:21.9px;color:#333;font-family:'Liberation Sans',sans-serif;left:1007.00px;-webkit-text-stroke:0.3px #333">Bounce Rate</div>
<div class="t" style="top:1161.88px;font-size:56px;color:#2b2b2b;font-family:'Liberation Sans',sans-serif;font-weight:bold;letter-spacing:-3.5px;left:995.00px;">32.5K</div>
<div class="abs" style="left:1031.00px;top:1239.30px;width:60.00px;height:42.50px;background:#e9f6ee;border-radius:6px;"></div>
<svg class="abs" style="left:1042.00px;top:1253.30px;" width="11" height="16" viewBox="0 0 11 16"><path d="M5.5 15 V2 M1.5 6 L5.5 2 L9.5 6" stroke="#3a9a6c" stroke-width="1.6" fill="none"/></svg>
<div class="t" style="top:1252.79px;font-size:19.5px;color:#3a9a6c;font-family:'Liberation Sans',sans-serif;left:1055.00px;">5%</div>
<div class="abs" style="left:1224.00px;top:1118.90px;width:17.50px;height:17.50px;background:#f6bd41;border-radius:4px;"></div>
<div class="t" style="top:1119.85px;font-size:21.2px;color:#333;font-family:'Liberation Sans',sans-serif;left:1251.70px;-webkit-text-stroke:0.3px #333">Avg Sessions per User</div>
<div class="t" style="top:1161.88px;font-size:56px;color:#2b2b2b;font-family:'Liberation Sans',sans-serif;font-weight:bold;letter-spacing:-3.5px;left:1284.80px;">32.5K</div>
<div class="abs" style="left:1320.30px;top:1239.30px;width:60.00px;height:42.50px;background:#e9f6ee;border-radius:6px;"></div>
<svg class="abs" style="left:1331.30px;top:1253.30px;" width="11" height="16" viewBox="0 0 11 16"><path d="M5.5 15 V2 M1.5 6 L5.5 2 L9.5 6" stroke="#3a9a6c" stroke-width="1.6" fill="none"/></svg>
<div class="t" style="top:1252.79px;font-size:19.5px;color:#3a9a6c;font-family:'Liberation Sans',sans-serif;left:1344.30px;">5%</div>
<div class="abs" style="left:1528px;top:738px;width:982px;height:573px;border:2px solid #f0f0f0;border-radius:16px;background:#fff"></div>
<div class="abs" style="left:1530.00px;top:849.00px;width:978.00px;height:2.00px;background:#f1f1f1;border-radius:0px;"></div>
<div class="abs" style="left:1550.00px;top:759.00px;width:39.00px;height:39.00px;background:#fff5f2;border-radius:8px;"></div>
<svg class="abs" style="left:1557.00px;top:766.00px;" width="28" height="26" viewBox="0 0 28 26"><rect x="1" y="1" width="5.5" height="23" rx="2" fill="none" stroke="#ef7b63" stroke-width="1.6"/><rect x="10" y="10" width="5.5" height="14" rx="2" fill="none" stroke="#ef7b63" stroke-width="1.6"/><rect x="19" y="16" width="5.5" height="8" rx="2" fill="none" stroke="#ef7b63" stroke-width="1.6"/></svg>
<div class="t" style="top:766.67px;font-size:23.3px;color:#2b2b2b;font-family:'Liberation Sans',sans-serif;font-weight:bold;left:1601.50px;">User drop-off</div>
<div class="abs" style="left:0;top:0;width:2560px;height:1309px;overflow:hidden">
<div class="t" style="top:800.77px;font-size:20.35px;color:#8e8e8e;font-family:'Liberation Sans',sans-serif;left:1553.00px;">5-step Funnel · Last 30 Days · users who have been invited to a workspace</div>
<svg class="abs" style="left:1529.00px;top:851.00px;" width="978" height="458" viewBox="0 0 978 458"><path d="M1600 930 C1690 930 1690 999 1770 999 L1770 1105 C1690 1105 1680 1037 1600 1037 Z" fill="rgba(120,86,255,0.11)" transform="translate(-1529,-851)"/><path d="M1600 1037 C1680 1037 1690 1105 1770 1105 L1770 1110 L1600 1110 Z" fill="rgba(120,86,255,0.06)" transform="translate(-1529,-851)"/><path d="M1600 1112 C1690 1112 1690 1110 1770 1110 L1770 1164 C1690 1164 1690 1166 1600 1166 Z" fill="rgba(255,117,87,0.09)" transform="translate(-1529,-851)"/><path d="M1600 1040 C1690 1070 1700 1232 1770 1232 L1770 1247 C1680 1247 1670 1100 1600 1072 Z" fill="rgba(120,86,255,0.11)" transform="translate(-1529,-851)"/><path d="M1602 1060 C1660 1110 1690 1240 1740 1311 L1695 1311 C1660 1250 1640 1140 1600 1095 Z" fill="rgba(120,86,255,0.11)" transform="translate(-1529,-851)"/><path d="M1600 1170 C1690 1180 1700 1251 1770 1251 L1770 1268 C1690 1268 1680 1210 1600 1200 Z" fill="rgba(255,117,87,0.09)" transform="translate(-1529,-851)"/><path d="M1600 1200 C1660 1230 1700 1280 1740 1311 L1690 1311 C1660 1280 1640 1240 1600 1223 Z" fill="rgba(255,117,87,0.09)" transform="translate(-1529,-851)"/><path d="M1815 999 L2014 999 L2014 1017 L1815 1017 Z" fill="rgba(120,86,255,0.11)" transform="translate(-1529,-851)"/><path d="M1815 1019 C1900 1040 1930 1140 2014 1157 L2014 1200 C1930 1185 1890 1085 1815 1062 Z" fill="rgba(120,86,255,0.11)" transform="translate(-1529,-851)"/><path d="M1815 1062 C1900 1090 1930 1200 2014 1230 L2014 1264 C1930 1240 1890 1130 1815 1105 Z" fill="rgba(120,86,255,0.11)" transform="translate(-1529,-851)"/><path d="M1815 1110 C1900 1105 1930 1060 2014 1050 L2014 1100 C1930 1110 1900 1160 1815 1164 Z" fill="rgba(255,117,87,0.09)" transform="translate(-1529,-851)"/><path d="M1815 1232 C1900 1232 1950 1110 2014 1092 L2014 1110 C1950 1130 1900 1247 1815 1247 Z" fill="rgba(120,86,255,0.11)" transform="translate(-1529,-851)"/><path d="M1815 1251 C1900 1245 1950 1180 2014 1170 L2014 1195 C1950 1205 1900 1268 1815 1268 Z" fill="rgba(255,117,87,0.09)" transform="translate(-1529,-851)"/><path d="M1850 1311 C1900 1250 1960 1210 2014 1190 L2014 1215 C1960 1240 1920 1280 1885 1311 Z" fill="rgba(120,86,255,0.11)" transform="translate(-1529,-851)"/><path d="M1815 1150 C1880 1180 1950 1260 1990 1311 L1950 1311 C1920 1270 1870 1210 1815 1190 Z" fill="rgba(120,86,255,0.11)" transform="translate(-1529,-851)"/><path d="M1830 1311 C1880 1260 1950 1130 2014 1120 L2014 1140 C1960 1150 1900 1270 1860 1311 Z" fill="rgba(255,117,87,0.09)" transform="translate(-1529,-851)"/><path d="M2030 999 L2081 999 L2081 1029 L2030 1029 Z" fill="rgba(120,86,255,0.11)" transform="translate(-1529,-851)"/><path d="M2030 1040 L2081 1040 L2081 1110 L2030 1110 Z" fill="rgba(255,117,87,0.09)" transform="translate(-1529,-851)"/><path d="M2030 1178 C2050 1178 2060 1178 2081 1178 L2081 1219 L2030 1230 Z" fill="rgba(120,86,255,0.11)" transform="translate(-1529,-851)"/><path d="M2030 1250 C2050 1280 2060 1300 2081 1303 L2081 1311 L2030 1311 Z" fill="rgba(120,86,255,0.11)" transform="translate(-1529,-851)"/><path d="M2126 1040 C2200 1030 2230 935 2297 935 L2297 1030 C2230 1030 2200 1100 2126 1110 Z" fill="rgba(255,117,87,0.05)" transform="translate(-1529,-851)"/><path d="M2126 1230 C2200 1220 2230 1040 2297 1035 L2297 1000 C2230 1010 2180 1200 2126 1210 Z" fill="rgba(255,117,87,0.04)" transform="translate(-1529,-851)"/></svg>
<svg class="abs" style="left:1529.00px;top:857.50px;" width="980" height="31" viewBox="0 0 980 31"><g fill="#f4f4f4" transform="translate(-1529,0)"><path d="M1554 0 L1752 0 L1764 15 L1752 30 L1554 30 Q1550 30 1550 26 L1550 4 Q1550 0 1554 0Z"/><path d="M1769 0 L1964 0 L1976 15 L1964 30 L1769 30 L1781 15 Z"/><path d="M2081 0 L2276 0 L2288 15 L2276 30 L2081 30 L2093 15 Z"/><path d="M2295 0 L2490 0 Q2494 0 2494 4 L2494 26 Q2494 30 2490 30 L2295 30 L2307 15Z"/></g></svg>
<div class="t" style="top:867.35px;font-size:11.4px;color:#aaa;font-family:'Liberation Sans',sans-serif;left:1573.00px;">A</div>
<div class="t" style="top:867.35px;font-size:11.4px;color:#555;font-family:'Liberation Sans',sans-serif;left:1584.80px;">Sign Up Completed</div>
<div class="t" style="top:867.35px;font-size:11.4px;color:#aaa;font-family:'Liberation Sans',sans-serif;left:1797.60px;">A + 1</div>
<div class="t" style="top:867.35px;font-size:11.4px;color:#aaa;font-family:'Liberation Sans',sans-serif;left:2109.40px;">B - 1</div>
<div class="t" style="top:867.35px;font-size:11.4px;color:#aaa;font-family:'Liberation Sans',sans-serif;left:2325.40px;">B</div>
<div class="t" style="top:867.35px;font-size:11.4px;color:#555;font-family:'Liberation Sans',sans-serif;left:2337.30px;">Purchase Completed</div>
<svg class="abs" style="left:1993.00px;top:865.00px;" width="15" height="15" viewBox="0 0 15 15"><path d="M7.5 1 V14 M1 7.5 H14" stroke="#333" stroke-width="1.8"/></svg>
<svg class="abs" style="left:2051.00px;top:865.00px;" width="15" height="15" viewBox="0 0 15 15"><path d="M7.5 1 V14 M1 7.5 H14" stroke="#333" stroke-width="1.8"/></svg>
<div class="abs" style="left:2028.50px;top:880.00px;width:1.50px;height:430.00px;background:#f2f2f2;border-radius:0px;"></div>
<svg class="abs" style="left:2019.00px;top:865.00px;" width="20" height="14" viewBox="0 0 20 14"><path d="M2 5 Q6 2 10 5 Q14 8 18 5 M2 10 Q6 7 10 10 Q14 13 18 10" stroke="#e6e6e6" stroke-width="1.5" fill="none"/></svg>
<div class="t" style="top:893.31px;font-size:10.5px;color:#2b2b2b;font-family:'Liberation Sans',sans-serif;font-weight:bold;left:1554.70px;">Sign Up Completed</div>
<div class="t" style="top:908.94px;font-size:11.3px;color:#333;font-family:'Liberation Mono',monospace;left:1554.70px;letter-spacing:0.4px">100%</div>
<div class="t" style="top:908.94px;font-size:11.3px;color:#aaa;font-family:'Liberation Mono',monospace;left:1589.42px;letter-spacing:0.4px">6,999</div>
<div class="abs" style="left:1554.40px;top:929.00px;width:44.80px;height:182.20px;background:#7856ff;border-radius:3px;"></div>
<div class="t" style="top:933.94px;font-size:11.3px;color:#fff;font-family:'Liberation Mono',monospace;left:1556.90px;letter-spacing:0.3px">62.88%</div>
<div class="abs" style="left:1554.40px;top:1117.00px;width:44.80px;height:106.60px;background:#ff7557;border-radius:3px;"></div>
<div class="t" style="top:1121.94px;font-size:11.3px;color:#4a2a20;font-family:'Liberation Mono',monospace;left:1556.90px;letter-spacing:0.3px">37.12%</div>
<svg class="abs" style="left:1774.00px;top:893.00px;" width="12" height="8" viewBox="0 0 12 8"><path d="M1 6 Q5 1 10 4" stroke="#777" stroke-width="1.3" fill="none"/><path d="M8 2 L11 4 L8 6" stroke="#777" stroke-width="1" fill="none"/></svg>
<div class="t" style="top:893.31px;font-size:10.5px;color:#2b2b2b;font-family:'Liberation Sans',sans-serif;font-weight:bold;left:1792.70px;">Purchase Completed</div>
<div class="t" style="top:908.94px;font-size:11.3px;color:#333;font-family:'Liberation Mono',monospace;left:1792.70px;letter-spacing:0.4px">0.24%</div>
<div class="t" style="top:908.94px;font-size:11.3px;color:#aaa;font-family:'Liberation Mono',monospace;left:1834.60px;letter-spacing:0.4px">17</div>
<div class="abs" style="left:1770.00px;top:928.60px;width:45.00px;height:2.80px;background:#ff7557;border-radius:1px;"></div>
<svg class="abs" style="left:1772.00px;top:944.00px;" width="16" height="16" viewBox="0 0 16 16"><path d="M6 6 L14 9.5 L10 10.5 L8.5 14.5Z" fill="none" stroke="#666" stroke-width="1.1" stroke-linejoin="round"/><path d="M5 1 V3.5 M1 5 H3.5 M2 2 L3.6 3.6 M8.5 2 L7.3 3.6 M2 8.5 L3.6 7.3" stroke="#888" stroke-width="1"/></svg>
<div class="t" style="top:949.11px;font-size:10.5px;color:#2b2b2b;font-family:'Liberation Sans',sans-serif;font-weight:bold;left:1792.70px;">Product Viewed</div>
<div class="t" style="top:964.74px;font-size:11.3px;color:#333;font-family:'Liberation Mono',monospace;left:1792.70px;letter-spacing:0.4px">54.99%</div>
<div class="t" style="top:964.74px;font-size:11.3px;color:#aaa;font-family:'Liberation Mono',monospace;left:1841.78px;letter-spacing:0.4px">3,849</div>
<div class="t" style="top:980.14px;font-size:11.3px;color:#e8634a;font-family:'Liberation Mono',monospace;left:1794.70px;letter-spacing:0.6px">+8.24%</div>
<div class="abs" style="left:1770.00px;top:999.80px;width:45.00px;height:105.70px;background:#7856ff;border-radius:3px;"></div>
<div class="t" style="top:1004.74px;font-size:11.3px;color:#fff;font-family:'Liberation Mono',monospace;left:1772.50px;letter-spacing:0.3px">65.94%</div>
<div class="abs" style="left:1770.00px;top:1110.00px;width:45.00px;height:54.10px;background:#ff7557;border-radius:3px;"></div>
<div class="t" style="top:1114.94px;font-size:11.3px;color:#4a2a20;font-family:'Liberation Mono',monospace;left:1772.50px;letter-spacing:0.3px">34.06%</div>
<svg class="abs" style="left:1772.00px;top:1177.00px;" width="16" height="16" viewBox="0 0 16 16"><path d="M6 6 L14 9.5 L10 10.5 L8.5 14.5Z" fill="none" stroke="#666" stroke-width="1.1" stroke-linejoin="round"/><path d="M5 1 V3.5 M1 5 H3.5 M2 2 L3.6 3.6 M8.5 2 L7.3 3.6 M2 8.5 L3.6 7.3" stroke="#888" stroke-width="1"/></svg>
<div class="t" style="top:1182.11px;font-size:10.5px;color:#2b2b2b;font-family:'Liberation Sans',sans-serif;font-weight:bold;left:1792.70px;">Checkout Started</div>
<div class="t" style="top:1197.74px;font-size:11.3px;color:#333;font-family:'Liberation Mono',monospace;left:1792.70px;letter-spacing:0.4px">11.07%</div>
<div class="t" style="top:1197.74px;font-size:11.3px;color:#aaa;font-family:'Liberation Mono',monospace;left:1841.78px;letter-spacing:0.4px">775</div>
<div class="t" style="top:1213.14px;font-size:11.3px;color:#2f9e62;font-family:'Liberation Mono',monospace;left:1794.70px;letter-spacing:0.6px">+49.82%</div>
<div class="abs" style="left:1770.00px;top:1232.40px;width:45.00px;height:14.60px;background:#7856ff;border-radius:3px;"></div>
<div class="abs" style="left:1770.00px;top:1251.40px;width:45.00px;height:17.20px;background:#ff7557;border-radius:3px;"></div>
<div class="t" style="top:1256.84px;font-size:11.3px;color:#4a2a20;font-family:'Liberation Mono',monospace;left:1772.50px;letter-spacing:0.3px">55.61%</div>
<svg class="abs" style="left:1771.00px;top:1286.00px;" width="17" height="17" viewBox="0 0 17 17"><rect x="1" y="1" width="15" height="15" rx="2" fill="none" stroke="#666" stroke-width="1.1"/><path d="M6 1 V16 M11 1 V16 M1 6 H16 M1 11 H16" stroke="#666" stroke-width="1.1"/></svg>
<div class="t" style="top:1288.11px;font-size:10.5px;color:#2b2b2b;font-family:'Liberation Sans',sans-serif;font-weight:bold;left:1792.70px;">Other events</div>
<div class="t" style="top:1303.74px;font-size:11.3px;color:#333;font-family:'Liberation Mono',monospace;left:1792.70px;letter-spacing:0.4px">30.69%</div>
<div class="t" style="top:1303.74px;font-size:11.3px;color:#aaa;font-family:'Liberation Mono',monospace;left:1841.78px;letter-spacing:0.4px">2,148</div>
<svg class="abs" style="left:2086.00px;top:893.00px;" width="12" height="8" viewBox="0 0 12 8"><path d="M1 6 Q5 1 10 4" stroke="#777" stroke-width="1.3" fill="none"/><path d="M8 2 L11 4 L8 6" stroke="#777" stroke-width="1" fill="none"/></svg>
<div class="t" style="top:893.31px;font-size:10.5px;color:#2b2b2b;font-family:'Liberation Sans',sans-serif;font-weight:bold;left:2104.00px;">Purchase Completed</div>
<div class="t" style="top:908.94px;font-size:11.3px;color:#333;font-family:'Liberation Mono',monospace;left:2104.00px;letter-spacing:0.4px">0.96%</div>
<div class="t" style="top:908.94px;font-size:11.3px;color:#aaa;font-family:'Liberation Mono',monospace;left:2145.90px;letter-spacing:0.4px">67</div>
<div class="abs" style="left:2081.60px;top:928.60px;width:44.50px;height:2.80px;background:#ff7557;border-radius:1px;"></div>
<svg class="abs" style="left:2084.00px;top:944.00px;" width="16" height="16" viewBox="0 0 16 16"><path d="M6 6 L14 9.5 L10 10.5 L8.5 14.5Z" fill="none" stroke="#666" stroke-width="1.1" stroke-linejoin="round"/><path d="M5 1 V3.5 M1 5 H3.5 M2 2 L3.6 3.6 M8.5 2 L7.3 3.6 M2 8.5 L3.6 7.3" stroke="#888" stroke-width="1"/></svg>
<div class="t" style="top:949.11px;font-size:10.5px;color:#2b2b2b;font-family:'Liberation Sans',sans-serif;font-weight:bold;left:2104.00px;">Checkout Started</div>
<div class="t" style="top:964.74px;font-size:11.3px;color:#333;font-family:'Liberation Mono',monospace;left:2104.00px;letter-spacing:0.4px">36.58%</div>
<div class="t" style="top:964.74px;font-size:11.3px;color:#aaa;font-family:'Liberation Mono',monospace;left:2153.08px;letter-spacing:0.4px">2,560</div>
<div class="t" style="top:980.14px;font-size:11.3px;color:#2f9e62;font-family:'Liberation Mono',monospace;left:2106.00px;letter-spacing:0.6px">+93.42%</div>
<div class="abs" style="left:2081.60px;top:999.80px;width:44.50px;height:29.20px;background:#7856ff;border-radius:3px;"></div>
<div class="t" style="top:1004.74px;font-size:11.3px;color:#fff;font-family:'Liberation Mono',monospace;left:2084.10px;letter-spacing:0.3px">28.2%</div>
<div class="abs" style="left:2081.60px;top:1033.40px;width:44.50px;height:76.60px;background:#ff7557;border-radius:3px;"></div>
<div class="t" style="top:1038.34px;font-size:11.3px;color:#4a2a20;font-family:'Liberation Mono',monospace;left:2084.10px;letter-spacing:0.3px">71.8%</div>
<svg class="abs" style="left:2084.00px;top:1123.00px;" width="16" height="16" viewBox="0 0 16 16"><path d="M6 6 L14 9.5 L10 10.5 L8.5 14.5Z" fill="none" stroke="#666" stroke-width="1.1" stroke-linejoin="round"/><path d="M5 1 V3.5 M1 5 H3.5 M2 2 L3.6 3.6 M8.5 2 L7.3 3.6 M2 8.5 L3.6 7.3" stroke="#888" stroke-width="1"/></svg>
<div class="t" style="top:1128.61px;font-size:10.5px;color:#2b2b2b;font-family:'Liberation Sans',sans-serif;font-weight:bold;left:2104.00px;">Product Viewed</div>
<div class="t" style="top:1144.24px;font-size:11.3px;color:#333;font-family:'Liberation Mono',monospace;left:2104.00px;letter-spacing:0.4px">17.66%</div>
<div class="t" style="top:1144.24px;font-size:11.3px;color:#aaa;font-family:'Liberation Mono',monospace;left:2153.08px;letter-spacing:0.4px">1,236</div>
<div class="t" style="top:1159.64px;font-size:11.3px;color:#e8634a;font-family:'Liberation Mono',monospace;left:2106.00px;letter-spacing:0.6px">+44.2%</div>
<div class="abs" style="left:2081.60px;top:1178.80px;width:44.50px;height:40.60px;background:#7856ff;border-radius:3px;"></div>
<div class="t" style="top:1183.74px;font-size:11.3px;color:#fff;font-family:'Liberation Mono',monospace;left:2084.10px;letter-spacing:0.3px">79.29%</div>
<div class="abs" style="left:2081.60px;top:1223.80px;width:44.50px;height:11.00px;background:#ff7557;border-radius:3px;"></div>
<svg class="abs" style="left:2082.00px;top:1251.00px;" width="17" height="17" viewBox="0 0 17 17"><rect x="1" y="1" width="15" height="15" rx="2" fill="none" stroke="#666" stroke-width="1.1"/><path d="M6 1 V16 M11 1 V16 M1 6 H16 M1 11 H16" stroke="#666" stroke-width="1.1"/></svg>
<div class="t" style="top:1253.11px;font-size:10.5px;color:#2b2b2b;font-family:'Liberation Sans',sans-serif;font-weight:bold;left:2104.00px;">Other events</div>
<div class="t" style="top:1268.74px;font-size:11.3px;color:#333;font-family:'Liberation Mono',monospace;left:2104.00px;letter-spacing:0.4px">39.38%</div>
<div class="t" style="top:1268.74px;font-size:11.3px;color:#aaa;font-family:'Liberation Mono',monospace;left:2153.08px;letter-spacing:0.4px">2,756</div>
<div class="t" style="top:1284.14px;font-size:11.3px;color:#e8634a;font-family:'Liberation Mono',monospace;left:2106.00px;letter-spacing:0.6px">+58.94%</div>
<div class="abs" style="left:2081.60px;top:1303.00px;width:44.50px;height:7.00px;background:#7856ff;border-radius:3px;border-bottom-left-radius:0;border-bottom-right-radius:0;"></div>
<div class="t" style="top:893.31px;font-size:10.5px;color:#2b2b2b;font-family:'Liberation Sans',sans-serif;font-weight:bold;left:2296.80px;">Purchase Completed</div>
<div class="t" style="top:908.94px;font-size:11.3px;color:#333;font-family:'Liberation Mono',monospace;left:2296.80px;letter-spacing:0.4px">37.12%</div>
<div class="t" style="top:908.94px;font-size:11.3px;color:#aaa;font-family:'Liberation Mono',monospace;left:2345.88px;letter-spacing:0.4px">2,598</div>
<div class="abs" style="left:2296.80px;top:929.30px;width:45.40px;height:108.00px;background:#ff7557;border-radius:3px;"></div>
<div class="t" style="top:934.24px;font-size:11.3px;color:#4a2a20;font-family:'Liberation Mono',monospace;left:2299.30px;letter-spacing:0.3px">100%</div>
<svg class="abs" style="left:2299.00px;top:1051.00px;" width="17" height="17" viewBox="0 0 17 17"><circle cx="8.5" cy="8.5" r="7.3" fill="none" stroke="#555" stroke-width="1.2"/><path d="M8.5 4.5 V12 M5.5 9 L8.5 12 L11.5 9" fill="none" stroke="#555" stroke-width="1.2"/></svg>
<div class="t" style="top:1055.11px;font-size:10.5px;color:#2b2b2b;font-family:'Liberation Sans',sans-serif;font-weight:bold;left:2319.70px;">Drop-off</div>
<div class="t" style="top:1070.74px;font-size:11.3px;color:#333;font-family:'Liberation Mono',monospace;left:2319.70px;letter-spacing:0.4px">62.88%</div>
<div class="t" style="top:1070.74px;font-size:11.3px;color:#aaa;font-family:'Liberation Mono',monospace;left:2370.00px;letter-spacing:0.4px">4,401</div>
<div class="abs" style="left:2296.80px;top:1090.70px;width:45.40px;height:182.50px;background:#8d8d8d;border-radius:3px;"></div>
<div class="t" style="top:1095.64px;font-size:11.3px;color:#eee;font-family:'Liberation Mono',monospace;left:2299.30px;letter-spacing:0.3px">100%</div>
</div>
</body></html>
